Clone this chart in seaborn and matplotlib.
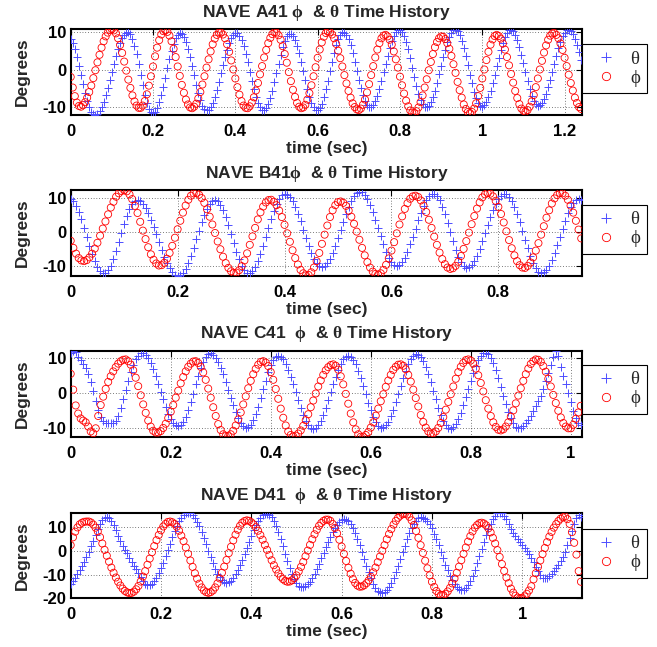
import numpy as np
import matplotlib
matplotlib.use("Agg")
import matplotlib.pyplot as plt
from matplotlib.lines import Line2D
import seaborn as sns
from matplotlib.ticker import FixedLocator, FuncFormatter

dt = 0.005

theta_A = [
    8.2, 7.2, 5.5, 3.5, 1.1, -1.4, -3.8, -6.1, -8.2, -9.9, -11.1, -11.8,
    -12.0, -11.7, -11.0, -9.9, -8.5, -6.7, -4.8, -2.7, -0.6, 1.6, 3.6, 5.5, 7.1, 8.4, 9.3, 9.9,
    10.0, 9.5, 8.3, 6.4, 4.1, 1.5, -1.3, -4.1, -6.6, -8.7, -10.3, -11.3,
    -11.5, -11.1, -10.1, -8.6, -6.7, -4.5, -2.1, 0.4, 2.8, 5.0, 6.9, 8.4, 9.4, 9.8,
    9.6, 8.8, 7.5, 5.6, 3.4, 1.0, -1.5, -4.0, -6.2, -8.1, -9.6, -10.5, -10.8,
    -10.6, -9.8, -8.7, -7.1, -5.3, -3.2, -0.9, 1.3, 3.4, 5.4, 7.1, 8.4, 9.3, 9.8,
    9.7, 9.1, 7.9, 6.3, 4.3, 2.0, -0.5, -2.9, -5.2, -7.2, -8.8, -10.0, -10.6,
    -10.6, -10.1, -9.0, -7.5, -5.5, -3.2, -0.8, 1.6, 4.0, 6.0, 7.7, 8.9, 9.5,
    9.5, 9.0, 7.9, 6.4, 4.4, 2.1, -0.3, -2.7, -5.0, -7.1, -8.8, -9.9, -10.6,
    -10.6, -10.1, -9.0, -7.3, -5.2, -2.9, -0.4, 2.2, 4.5, 6.6, 8.3, 9.4, 10.0,
    9.9, 9.3, 8.1, 6.5, 4.4, 2.2, -0.2, -2.6, -4.9, -6.8, -8.4, -9.4, -10.0,
    -9.9, -9.4, -8.3, -6.9, -5.1, -3.0, -0.7, 1.5, 3.8, 5.9, 7.7, 9.1, 10.2, 10.7,
    10.7, 10.2, 9.1, 7.5, 5.5, 3.1, 0.6, -1.8, -4.2, -6.3, -8.0, -9.2, -9.9,
    -10.0, -9.5, -8.6, -7.2, -5.5, -3.4, -1.2, 1.0, 3.3, 5.4, 7.3, 8.8, 9.9, 10.5,
    10.7, 10.3, 9.3, 7.8, 5.9, 3.6, 1.2, -1.3, -3.6, -5.8, -7.5, -8.9, -9.6,
    -9.8, -9.4, -8.6, -7.3, -5.6, -3.6, -1.4, 0.9, 3.2, 5.3, 7.2, 8.7, 9.9, 10.5,
    10.7, 10.3, 9.4, 8.0, 6.2, 4.0, 1.7, -0.6, -2.9, -5.1, -6.9, -8.3, -9.2, -9.6,
    -9.4, -8.8, -7.8, -6.4, -4.6, -2.7, -0.5, 1.6, 3.8, 5.8, 7.5, 8.9, 9.9, 10.5,
    10.7, 10.3, 9.5, 8.3, 6.6, 4.7, 2.5,
]
phi_A = [
    -1.9, -4.7, -7.0, -8.7, -9.6,
    -9.8, -9.4, -8.6, -7.4, -5.9, -4.2, -2.2, -0.1, 2.0, 4.0, 5.9, 7.6, 8.9, 9.9, 10.6, 10.8,
    10.5, 9.7, 8.4, 6.6, 4.5, 2.2, -0.2, -2.6, -4.8, -6.8, -8.4, -9.5, -10.1,
    -10.1, -9.5, -8.3, -6.5, -4.2, -1.7, 0.9, 3.6, 5.9, 7.9, 9.4, 10.3,
    10.5, 10.1, 9.1, 7.6, 5.6, 3.4, 0.9, -1.6, -4.0, -6.1, -7.9, -9.2, -10.0,
    -10.2, -9.8, -9.0, -7.6, -5.9, -3.9, -1.7, 0.6, 2.8, 4.9, 6.8, 8.3, 9.3, 9.9,
    9.9, 9.4, 8.4, 6.8, 4.8, 2.5, 0.1, -2.3, -4.6, -6.6, -8.3, -9.5, -10.1,
    -10.2, -9.7, -8.7, -7.3, -5.5, -3.5, -1.2, 1.0, 3.3, 5.3, 7.1, 8.5, 9.5, 10.0,
    9.9, 9.2, 8.0, 6.3, 4.2, 1.9, -0.6, -3.0, -5.3, -7.2, -8.8, -9.8, -10.2,
    -10.0, -9.3, -7.9, -6.2, -4.1, -1.7, 0.7, 3.2, 5.4, 7.3, 8.8, 9.8, 10.2,
    10.0, 9.4, 8.4, 6.9, 5.1, 3.1, 0.9, -1.4, -3.6, -5.6, -7.4, -8.9, -9.9, -10.5,
    -10.7, -10.3, -9.3, -7.9, -6.0, -3.8, -1.4, 1.0, 3.3, 5.4, 7.1, 8.4, 9.1,
    9.3, 8.9, 8.0, 6.7, 4.9, 2.8, 0.6, -1.8, -4.1, -6.3, -8.2, -9.7, -10.8, -11.4,
    -11.5, -11.0, -10.0, -8.6, -6.8, -4.7, -2.5, -0.1, 2.1, 4.2, 6.0, 7.4, 8.4, 8.9,
    8.8, 8.2, 7.1, 5.6, 3.7, 1.5, -0.8, -3.2, -5.4, -7.4, -9.2, -10.4, -11.2,
    -11.5, -11.2, -10.3, -8.9, -7.0, -4.8, -2.3, 0.1, 2.6, 4.8, 6.7, 8.1, 9.0,
    9.3, 9.0, 8.3, 7.0, 5.4, 3.4, 1.2, -1.1, -3.4, -5.6, -7.5, -9.1, -10.3, -10.9,
    -11.1, -10.7, -9.8, -8.4, -6.7, -4.6, -2.3, 0.1, 2.4, 4.6, 6.5, 8.0, 9.1, 9.7,
    9.8, 9.3, 8.4, 7.0, 5.3, 3.2, 1.0, -1.3, -3.5, -5.5, -7.4, -8.8, -9.9, -10.4,
]

theta_B = [
    9.9, 9.2, 7.9, 6.1, 3.9, 1.4, -1.3, -3.9, -6.3, -8.5, -10.2, -11.4, -11.9,
    -11.9, -11.1, -9.8, -7.9, -5.5, -2.9, -0.2, 2.4, 4.8, 6.8, 8.3, 9.2,
    9.4, 9.1, 8.3, 7.1, 5.6, 3.7, 1.6, -0.6, -2.9, -5.1, -7.2, -9.0, -10.6, -11.8, -12.6, -12.9,
    -12.7, -12.0, -10.7, -9.0, -6.9, -4.5, -2.0, 0.5, 2.9, 5.1, 6.9, 8.3, 9.1, 9.4,
    9.1, 8.1, 6.6, 4.5, 2.1, -0.5, -3.2, -5.7, -8.0, -9.8, -11.2, -11.9,
    -12.0, -11.4, -10.3, -8.6, -6.5, -4.0, -1.4, 1.3, 3.9, 6.3, 8.3, 9.8, 10.9, 11.3,
    11.1, 10.4, 9.2, 7.5, 5.5, 3.2, 0.8, -1.6, -3.9, -6.0, -7.8, -9.1, -9.9, -10.2,
    -9.9, -9.1, -7.8, -6.1, -4.1, -1.7, 0.7, 3.1, 5.4, 7.6, 9.3, 10.7, 11.6, 12.0,
    11.8, 11.1, 9.8, 8.1, 6.0, 3.7, 1.2, -1.2, -3.6, -5.7, -7.5, -8.9, -9.7, -10.0,
    -9.7, -8.9, -7.5, -5.8, -3.6, -1.3, 1.1, 3.6, 5.8, 7.8, 9.4, 10.6, 11.2,
    11.2, 10.6, 9.4, 7.6, 5.4, 2.8, 0.1, -2.6, -5.1, -7.2, -8.9, -10.0, -10.5,
    -10.3, -9.6, -8.5, -6.9, -4.9, -2.7, -0.3, 2.1, 4.4, 6.5, 8.4, 9.8, 10.8, 11.3,
    11.2, 10.5, 9.3, 7.5, 5.5, 3.0, 0.5, -2.2, -4.7, -7.1, -9.0, -10.6, -11.6, -12.0,
    -11.8, -11.1, -9.9, -8.2, -6.1, -3.8, -1.3, 1.1, 3.4, 5.6, 7.4, 8.7, 9.5, 9.8,
    9.5,
]
phi_B = [
    -2.5, -4.6, -6.3, -7.6, -8.3,
    -8.5, -8.2, -7.4, -6.3, -4.8, -3.1, -1.0, 1.1, 3.2, 5.3, 7.3, 9.0, 10.5, 11.5, 12.2, 12.4,
    12.1, 11.2, 9.8, 7.8, 5.7, 3.1, 0.5, -2.0, -4.4, -6.5, -8.1, -9.2, -9.8,
    -9.7, -9.0, -7.8, -6.1, -4.0, -1.6, 0.9, 3.4, 5.8, 7.9, 9.6, 10.8, 11.5,
    11.6, 11.1, 10.1, 8.7, 6.8, 4.6, 2.3, -0.2, -2.7, -5.0, -7.2, -9.1, -10.5, -11.5, -12.0,
    -11.9, -11.2, -10.0, -8.3, -6.2, -3.7, -1.2, 1.3, 3.8, 5.9, 7.6, 8.8, 9.5,
    9.6, 9.0, 8.0, 6.4, 4.5, 2.2, -0.3, -2.8, -5.3, -7.6, -9.5, -11.1, -12.1, -12.7,
    -12.6, -11.8, -10.4, -8.5, -6.1, -3.4, -0.7, 2.0, 4.5, 6.5, 8.0, 8.9,
    9.1, 8.7, 7.8, 6.4, 4.6, 2.5, 0.2, -2.2, -4.6, -6.8, -8.8, -10.4, -11.6, -12.3,
    -12.5, -12.1, -11.1, -9.6, -7.7, -5.4, -2.9, -0.3, 2.3, 4.7, 6.9, 8.6, 9.9, 10.6,
    10.8, 10.4, 9.4, 7.9, 6.0, 3.7, 1.3, -1.3, -3.7, -6.0, -7.9, -9.4, -10.4, -10.8,
    -10.6, -9.9, -8.7, -7.0, -4.9, -2.6, -0.1, 2.4, 4.8, 7.0, 8.8, 10.3, 11.2, 11.6,
    11.4, 10.6, 9.3, 7.5, 5.4, 2.9, 0.3, -2.3, -4.7, -6.8, -8.5, -9.7, -10.4,
    -10.5, -9.9, -8.9, -7.4, -5.4, -3.2, -0.7, 1.8, 4.3, 6.5, 8.5, 10.0, 11.0, 11.6,
    11.5, 10.8, 9.6, 7.9, 5.8, 3.4, 0.8, -1.8,
]

theta_C = [
    11.5, 12.0, 11.6, 10.4, 9.3, 8.4, 7.3, 5.4, 3.3, 0.6, -2.1, -4.9, -6.9, -8.0, -8.4,
    -8.5, -8.5, -8.4, -8.0, -6.5, -4.3, -1.8, 1.0, 3.6, 5.9, 8.0, 9.6, 10.7, 11.4,
    11.4, 10.9, 9.9, 8.5, 6.8, 4.8, 2.6, 0.4, -1.8, -4.0, -5.8, -7.3, -8.5, -9.2,
    -9.4, -9.1, -8.2, -6.7, -4.8, -2.5, -0.1, 2.5, 4.9, 7.1, 8.9, 10.3, 11.1,
    11.3, 11.0, 10.1, 8.9, 7.2, 5.4, 3.2, 1.0, -1.3, -3.4, -5.4, -7.1, -8.4, -9.3, -9.8,
    -9.7, -9.0, -7.7, -6.0, -3.8, -1.4, 1.2, 3.6, 6.0, 7.9, 9.3, 10.3,
    10.6, 10.3, 9.6, 8.3, 6.7, 4.7, 2.5, 0.3, -2.0, -4.2, -6.2, -7.8, -9.1, -9.8,
    -10.1, -9.8, -9.1, -7.8, -6.2, -4.2, -2.0, 0.3, 2.5, 4.7, 6.7, 8.3, 9.6, 10.3,
    10.6, 10.3, 9.5, 8.2, 6.4, 4.4, 2.1, -0.3, -2.7, -4.8, -6.7, -8.2, -9.3, -9.8,
    -9.7, -9.1, -8.1, -6.6, -4.7, -2.6, -0.3, 2.0, 4.3, 6.4, 8.2, 9.6, 10.6, 11.1,
    11.0, 10.4, 9.2, 7.5, 5.5, 3.2, 0.7, -1.7, -4.1, -6.1, -7.9, -9.2, -9.9,
    -10.1, -9.7, -8.8, -7.4, -5.6, -3.5, -1.2, 1.2, 3.6, 5.8, 7.8, 9.4, 10.6, 11.3,
    11.5, 11.1, 10.1, 8.6, 6.6, 4.3, 1.8, -0.7, -3.1, -5.3, -7.1, -8.6, -9.5, -9.8,
    -9.8, -9.3, -8.5, -7.5, -6.4, -5.0, -3.7, -2.3, -0.8, 1.2, 3.5, 5.8, 8.0, 10.2, 12.0,
    10.5, 7.5, 5.0, 2.5, 0.0, -2.5, -5.0, -7.0, -8.5, -9.2,
]
phi_C = [
    5.5, 1.0, -3.5, -5.8, -7.2, -7.8, -8.3, -9.5, -10.9, -11.4, -10.0,
    -6.5, -3.4, -1.0, 1.2, 3.2, 4.8, 6.2, 7.4, 8.4, 9.1, 9.5,
    9.6, 9.1, 8.1, 6.5, 4.4, 2.0, -0.6, -3.2, -5.6, -7.8, -9.5, -10.7, -11.2,
    -11.2, -10.8, -9.9, -8.7, -7.1, -5.3, -3.4, -1.3, 0.7, 2.8, 4.6, 6.2, 7.5, 8.4, 9.0,
    9.1, 8.6, 7.5, 5.9, 3.8, 1.3, -1.3, -4.0, -6.5, -8.8, -10.5, -11.7, -12.2,
    -12.2, -11.7, -10.7, -9.2, -7.5, -5.5, -3.2, -0.9, 1.4, 3.5, 5.4, 6.9, 8.1, 8.9,
    9.1, 8.7, 7.7, 6.0, 3.8, 1.2, -1.6, -4.4, -7.0, -9.2, -10.9, -11.9,
    -12.3, -12.1, -11.5, -10.6, -9.3, -7.7, -6.0, -4.0, -2.1, -0.1, 1.9, 3.6, 5.2, 6.5, 7.4, 8.0, 8.2,
    7.8, 6.7, 4.8, 2.5, -0.2, -3.0, -5.8, -8.3, -10.3, -11.7, -12.4,
    -12.4, -11.9, -11.1, -9.8, -8.3, -6.4, -4.4, -2.3, -0.3, 1.8, 3.6, 5.2, 6.6, 7.5, 8.1,
    8.2, 7.8, 6.8, 5.2, 3.3, 1.0, -1.4, -3.8, -6.2, -8.2, -9.8, -10.9, -11.5,
    -11.4, -10.9, -9.9, -8.5, -6.8, -4.7, -2.5, -0.3, 1.9, 4.1, 6.0, 7.5, 8.6, 9.4,
    9.6, 9.3, 8.4, 7.0, 5.1, 2.9, 0.5, -2.0, -4.4, -6.5, -8.3, -9.6, -10.4,
    -10.6, -10.3, -9.5, -8.3, -6.7, -4.9, -2.9, -0.7, 1.4, 3.5, 5.4, 7.0, 8.3, 9.1, 9.6,
    9.5, 8.9, 7.7, 6.1, 4.1, 1.9, -0.5, -2.8, -5.0, -6.9, -8.5, -9.5, -10.0,
    -10.0, -9.0, -7.3, -5.5, -3.6,
]

theta_D = [
    -14.0, -12.8, -11.3, -9.8, -8.2, -6.5, -4.6, -2.6, -0.4, 2.0, 4.4, 6.8, 9.2, 11.3, 13.0, 14.2, 14.6,
    14.0, 12.8, 11.2, 9.0, 6.2, 4.2, 2.2, 0.6, -1.0, -2.8, -4.6, -6.2, -7.6, -9.4, -11.2, -12.8, -13.8, -14.3,
    -14.3, -13.8, -12.8, -11.3, -9.4, -7.3, -4.9, -2.3, 0.4, 3.1, 5.8, 8.3, 10.6, 12.6, 14.2, 15.3, 16.1, 16.3,
    16.0, 15.3, 14.1, 12.5, 10.4, 8.1, 5.5, 2.8, 0.1, -2.6, -5.2, -7.5, -9.6, -11.2, -12.4, -13.1, -13.4,
    -13.2, -12.5, -11.4, -9.9, -8.1, -6.0, -3.6, -1.1, 1.5, 4.0, 6.5, 8.8, 11.0, 12.6, 14.1, 15.1, 15.7,
    15.8, 15.3, 14.3, 12.7, 10.6, 8.0, 5.1, 2.1, -1.1, -4.2, -7.1, -9.6, -11.9, -13.6, -14.8, -15.4,
    -15.3, -14.9, -14.1, -12.9, -11.4, -9.6, -7.7, -5.4, -3.1, -0.8, 1.6, 3.9, 6.1, 8.0, 9.7, 11.2, 12.3, 13.0, 13.4,
    13.3, 12.7, 11.5, 9.8, 7.8, 5.3, 2.6, -0.3, -3.3, -6.2, -9.0, -11.5, -13.8, -15.5, -16.8, -17.5,
    -17.7, -17.3, -16.5, -15.1, -13.4, -11.3, -8.9, -6.2, -3.4, -0.5, 2.3, 5.0, 7.5, 9.6, 11.4, 12.9, 13.8, 14.3,
    14.2, 13.7, 12.7, 11.3, 9.6, 7.4, 4.9, 2.4, -0.3, -3.0, -5.7, -8.2, -10.4, -12.4, -14.1, -15.3, -16.2, -16.5,
    -16.3, -15.6, -14.3, -12.6, -10.5, -7.9, -5.2, -2.2, 0.8, 3.8, 6.7, 9.3, 11.6, 13.5, 15.0, 15.9, 16.3,
    16.0, 15.0, 13.5, 11.3, 9.2, 7.8, 6.5, 5.2, 4.0, 2.7, 1.3, 0.0, -1.2, -2.9, -4.8, -6.7, -8.6, -10.3,
    -11.4, -11.6, -11.3, -10.6, -9.6, -8.5, -7.3, -5.9, -4.3, -2.5, -0.2, 2.5, 5.5, 8.5, 11.5, 14.0, 15.3, 14.5,
]
phi_D = [
    2.5, 5.8, 8.2, 10.0, 11.3, 12.0, 12.4, 12.5,
    12.5, 12.1, 11.2, 9.9, 8.3, 5.9, 3.2, 0.5, -2.0, -4.5, -7.0, -9.2, -11.2, -13.0, -14.6, -15.9, -16.9, -17.5, -17.8,
    -17.7, -17.2, -16.2, -14.8, -12.9, -10.8, -8.5, -5.8, -3.2, -0.5, 2.1, 4.6, 6.8, 8.8, 10.4, 11.5, 12.3, 12.5,
    12.2, 11.5, 10.3, 8.6, 6.5, 4.2, 1.5, -1.2, -4.0, -6.7, -9.4, -11.7, -13.8, -15.4, -16.7, -17.4, -17.7,
    -17.4, -16.7, -15.4, -13.7, -11.6, -9.2, -6.6, -3.8, -0.9, 1.8, 4.5, 6.9, 9.0, 10.7, 12.0, 12.7, 13.0,
    12.8, 12.2, 11.3, 10.1, 8.6, 6.8, 4.8, 2.6, 0.5, -1.7, -3.9, -6.0, -7.8, -9.5, -10.9, -11.9, -12.6, -13.0,
    -12.9, -12.4, -11.5, -10.3, -8.6, -6.7, -4.6, -2.2, 0.2, 2.6, 5.0, 7.1, 9.0, 10.7, 11.9, 12.8, 13.3,
    13.3, 12.8, 11.5, 9.8, 7.5, 4.8, 1.9, -1.2, -4.2, -7.1, -9.6, -11.9, -13.5, -14.6, -15.1,
    -15.0, -14.5, -13.6, -12.4, -10.9, -9.0, -7.0, -4.7, -2.3, 0.1, 2.5, 5.0, 7.2, 9.3, 11.2, 12.8, 14.1, 15.0, 15.6, 15.8,
    15.5, 14.5, 13.0, 11.0, 8.5, 5.6, 2.5, -0.8, -4.1, -7.3, -10.3, -13.0, -15.2, -16.9, -18.1, -18.6,
    -18.6, -18.1, -17.1, -15.6, -13.7, -11.6, -9.2, -6.6, -3.9, -1.2, 1.5, 4.0, 6.3, 8.3, 9.9, 11.0, 11.8, 12.0,
    11.7, 10.9, 9.6, 7.9, 5.6, 3.2, 0.4, -2.5, -5.5, -8.4, -11.2, -13.6, -15.9, -17.6, -18.9, -19.7, -20.0,
    -19.8, -19.2, -18.1, -16.7, -14.9, -12.0, -9.4, -6.7, -4.0, -1.3, 1.3, 3.8, 6.1, 8.1, 9.9, 11.4, 12.7, 13.7, 14.3, 14.6,
    13.5, 11.5, 8.0, 3.5, -1.5, -8.5, -13.0,
]

names = ["A41 ", "B41", "C41  ", "D41  "]
t_end = [1.243, 0.957, 1.023, 1.133]
xticks_A = [0, 0.2, 0.4, 0.6, 0.8, 1.0, 1.2]
xticks_B = [0, 0.2, 0.4, 0.6, 0.8]
xticks_C = [0, 0.2, 0.4, 0.6, 0.8, 1.0]
xticks_D = [0, 0.2, 0.4, 0.6, 0.8, 1.0]
yticks_ABC = [-10, 0, 10]
yticks_D = [-20, -10, 0, 10]

# ---------------- style ----------------
sns.set_theme(style="white")
plt.rcParams.update({
    "font.family": ["Liberation Sans", "DejaVu Sans"],
    "font.weight": "bold",
    "axes.titleweight": "bold",
    "axes.labelweight": "bold",
    "mathtext.fontset": "custom",
    "mathtext.rm": "Liberation Serif",
    "mathtext.it": "Liberation Serif:italic",
    "mathtext.bf": "Liberation Serif:bold",
    "mathtext.fallback": "cm",
    "axes.edgecolor": "black",
    "axes.linewidth": 1.5,
    "axes.facecolor": "white",
    "figure.facecolor": "white",
})

BLUE = (0.3, 0.3, 1.0)
RED = (1.0, 0.0, 0.0)

fig = plt.figure(figsize=(6.57, 6.47), dpi=100)

panels = [
    (theta_A, phi_A, names[0], t_end[0], xticks_A, yticks_ABC, 0.54),
    (theta_B, phi_B, names[1], t_end[1], xticks_B, yticks_ABC, 0.545),
    (theta_C, phi_C, names[2], t_end[2], xticks_C, yticks_ABC, 0.555),
    (theta_D, phi_D, names[3], t_end[3], xticks_D, yticks_D, 0.525),
]
bottoms = [0.8223, 0.5734, 0.3250, 0.0753]
fmt = FuncFormatter(lambda v, pos: f"{v:g}")

for (th, ph, name, tend, xt, yt, legy), b in zip(panels, bottoms):
    ax = fig.add_axes([0.1076, b, 0.7787, 0.1325])
    t_th = np.arange(len(th)) * dt
    t_ph = np.arange(len(ph)) * dt
    sns.scatterplot(x=t_th, y=th, ax=ax, marker="+", color=BLUE, s=36,
                    linewidth=0.7, zorder=3, legend=False)
    sns.scatterplot(x=t_ph, y=ph, ax=ax, marker="o", color=RED,
                    facecolors="none", edgecolor=RED, s=26, linewidth=0.6,
                    zorder=4, legend=False)
    ax.set_xlim(0, tend)
    ax.set_ylim(min(min(th), min(ph)), max(max(th), max(ph)))
    ax.xaxis.set_major_locator(FixedLocator(xt))
    ax.yaxis.set_major_locator(FixedLocator(yt))
    ax.xaxis.set_major_formatter(fmt)
    ax.yaxis.set_major_formatter(fmt)
    ax.grid(True, color="black", linestyle=(0, (1, 3)), linewidth=0.5)
    ax.set_axisbelow(True)
    ax.tick_params(direction="in", length=4, width=0.8, top=True, right=True,
                   labelsize=12, colors="black")
    ax.tick_params(axis="x", pad=6.5)
    ax.tick_params(axis="y", pad=3)
    for lab in ax.get_xticklabels() + ax.get_yticklabels():
        lab.set_fontweight("bold")
    for sp in ax.spines.values():
        sp.set_linewidth(1.5)
        sp.set_color("black")
    ax.set_xlabel("time (sec)", fontsize=12.5, fontweight="bold")
    ax.xaxis.set_label_coords(0.5, -0.305)
    ax.set_ylabel("Degrees", fontsize=12.5, fontweight="bold")
    ax.yaxis.set_label_coords(-0.08, 0.5)
    ax.set_title(f"NAVE {name}" + r"$\mathrm{\phi}$  & $\mathrm{\theta}$ Time History",
                 fontsize=12.5, fontweight="bold", pad=9)
    handles = [
        Line2D([], [], linestyle="None", marker="+", color=BLUE, markersize=6.5,
               markeredgewidth=0.7),
        Line2D([], [], linestyle="None", marker="o", markerfacecolor="none",
               markeredgecolor=RED, markersize=6, markeredgewidth=0.6),
    ]
    leg = ax.legend(handles, ["θ", "ϕ"], loc="center left",
                    bbox_to_anchor=(1.0, legy), borderaxespad=0,
                    frameon=True, fancybox=False, edgecolor="black", framealpha=1,
                    prop={"family": ["Liberation Serif", "DejaVu Serif"],
                          "size": 13.5, "weight": "normal"},
                    handlelength=1.85, handletextpad=0.35, borderpad=0.35,
                    labelspacing=0.1, numpoints=1)
    leg.get_frame().set_linewidth(0.8)

fig.savefig("out.png", dpi=100)
